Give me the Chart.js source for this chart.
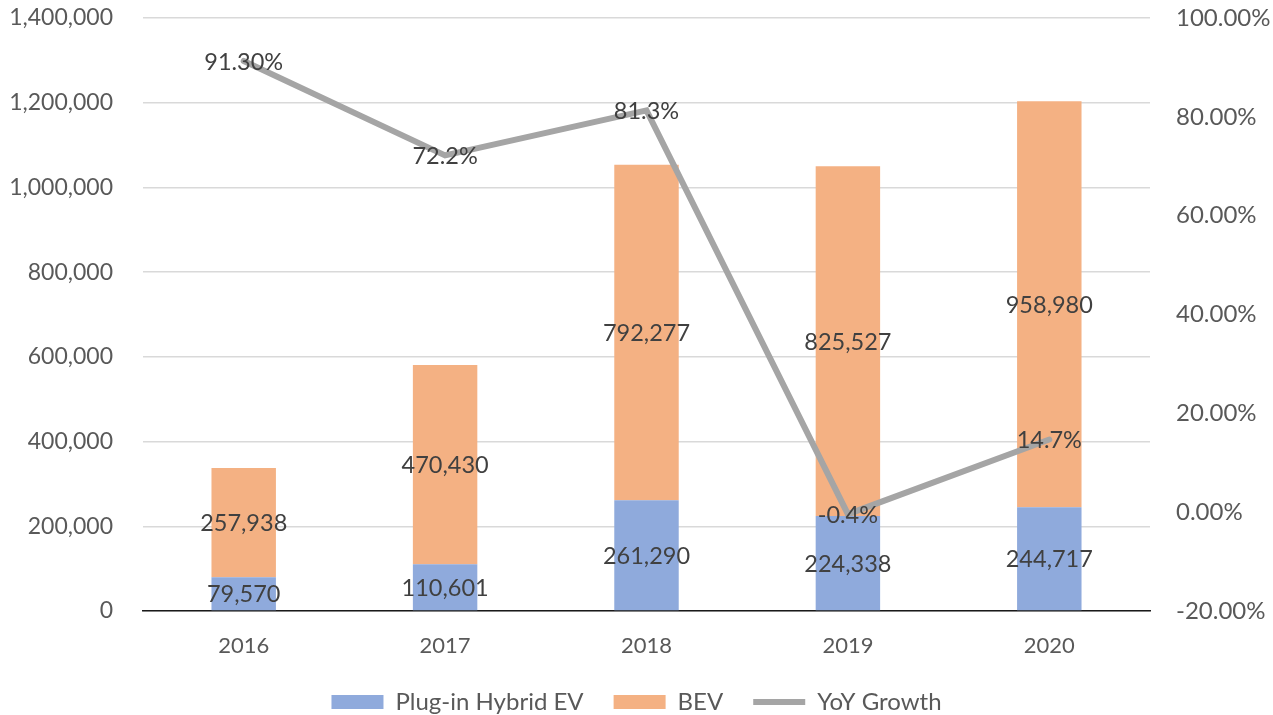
<!DOCTYPE html>
<html>
<head>
<meta charset="utf-8">
<script src="https://cdn.jsdelivr.net/npm/chart.js@4/dist/chart.umd.min.js"></script>
<style>
  html, body { margin: 0; padding: 0; background: #fff; }
  #wrap { width: 1273px; height: 715px; }
</style>
</head>
<body>
<div id="wrap"><canvas id="chart" width="1273" height="715"></canvas></div>
<script>
// chart data
const years = ['2016', '2017', '2018', '2019', '2020'];
const phev = [79570, 110601, 261290, 224338, 244717];
const bev = [257938, 470430, 792277, 825527, 958980];
const yoy = [91.3, 72.2, 81.3, -0.4, 14.7];
const yoyLabels = ['91.30%', '72.2%', '81.3%', '-0.4%', '14.7%'];

const FONT = 'Lato, "Open Sans", sans-serif';

// draws the value labels centred on each bar segment / line point
const valueLabels = {
  id: 'valueLabels',
  afterDatasetsDraw(chart) {
    const ctx = chart.ctx;
    ctx.save();
    ctx.font = '23.5px ' + FONT;
    ctx.fillStyle = '#404040';
    ctx.textAlign = 'center';
    ctx.textBaseline = 'middle';
    chart.data.datasets.forEach((ds, i) => {
      const meta = chart.getDatasetMeta(i);
      meta.data.forEach((el, j) => {
        if (ds.type === 'line') {
          ctx.fillText(yoyLabels[j], el.x, el.y + 1);
        } else {
          const p = el.getProps(['x', 'y', 'base'], true);
          ctx.fillText(ds.data[j].toLocaleString('en-US'), p.x, (p.y + p.base) / 2 + 1);
        }
      });
    });
    ctx.restore();
  }
};

// y axes: fixed width, and drop the label padding chart.js adds above/below
function fitY(width) {
  return scale => {
    scale.width = width;
    scale.paddingTop = 18;
    scale.paddingBottom = 0;
  };
}

new Chart(document.getElementById('chart'), {
  type: 'bar',
  data: {
    labels: years,
    datasets: [
      {
        label: 'Plug-in Hybrid EV',
        data: phev,
        backgroundColor: '#8FAADC',
        borderWidth: 0,
        pointStyle: 'rect',
        yAxisID: 'y',
        order: 2
      },
      {
        label: 'BEV',
        data: bev,
        backgroundColor: '#F4B183',
        borderWidth: 0,
        pointStyle: 'rect',
        yAxisID: 'y',
        order: 2
      },
      {
        type: 'line',
        label: 'YoY Growth',
        data: yoy,
        borderColor: '#A5A5A5',
        backgroundColor: '#A5A5A5',
        borderWidth: 6,
        borderCapStyle: 'round',
        pointRadius: 0,
        pointStyle: 'line',
        tension: 0,
        yAxisID: 'y1',
        order: 1
      }
    ]
  },
  options: {
    responsive: false,
    animation: false,
    layout: { padding: { top: 0, left: 0, right: 0, bottom: -9 } },
    datasets: {
      bar: { barPercentage: 0.4, categoryPercentage: 0.8 }
    },
    plugins: {
      tooltip: { enabled: false },
      legend: {
        position: 'bottom',
        labels: {
          sort: (a, b) => a.datasetIndex - b.datasetIndex,
          usePointStyle: true,
          pointStyleWidth: 52,
          boxHeight: 14,
          padding: 30,
          color: '#595959',
          font: { family: FONT, size: 24 }
        }
      }
    },
    scales: {
      x: {
        stacked: true,
        afterFit(scale) { scale.height = 49; },
        grid: { display: false, drawTicks: false },
        border: { display: true, color: '#1a1a1a', width: 1.5 },
        ticks: { color: '#595959', padding: 22, font: { family: FONT, size: 22 } }
      },
      y: {
        stacked: true,
        min: 0,
        max: 1400000,
        position: 'left',
        afterFit: fitY(143),
        grid: { color: '#D9D9D9', lineWidth: 1.5, drawTicks: false },
        border: { display: false },
        ticks: {
          stepSize: 200000,
          padding: 30,
          color: '#595959',
          font: { family: FONT, size: 23 },
          callback: v => v.toLocaleString('en-US')
        }
      },
      y1: {
        min: -20,
        max: 100,
        position: 'right',
        afterFit: fitY(123),
        grid: { display: false, drawTicks: false },
        border: { display: false },
        ticks: {
          stepSize: 20,
          padding: 26,
          color: '#595959',
          font: { family: FONT, size: 24 },
          callback: v => v.toFixed(2) + '%'
        }
      }
    }
  },
  plugins: [valueLabels]
});
</script>
</body>
</html>
